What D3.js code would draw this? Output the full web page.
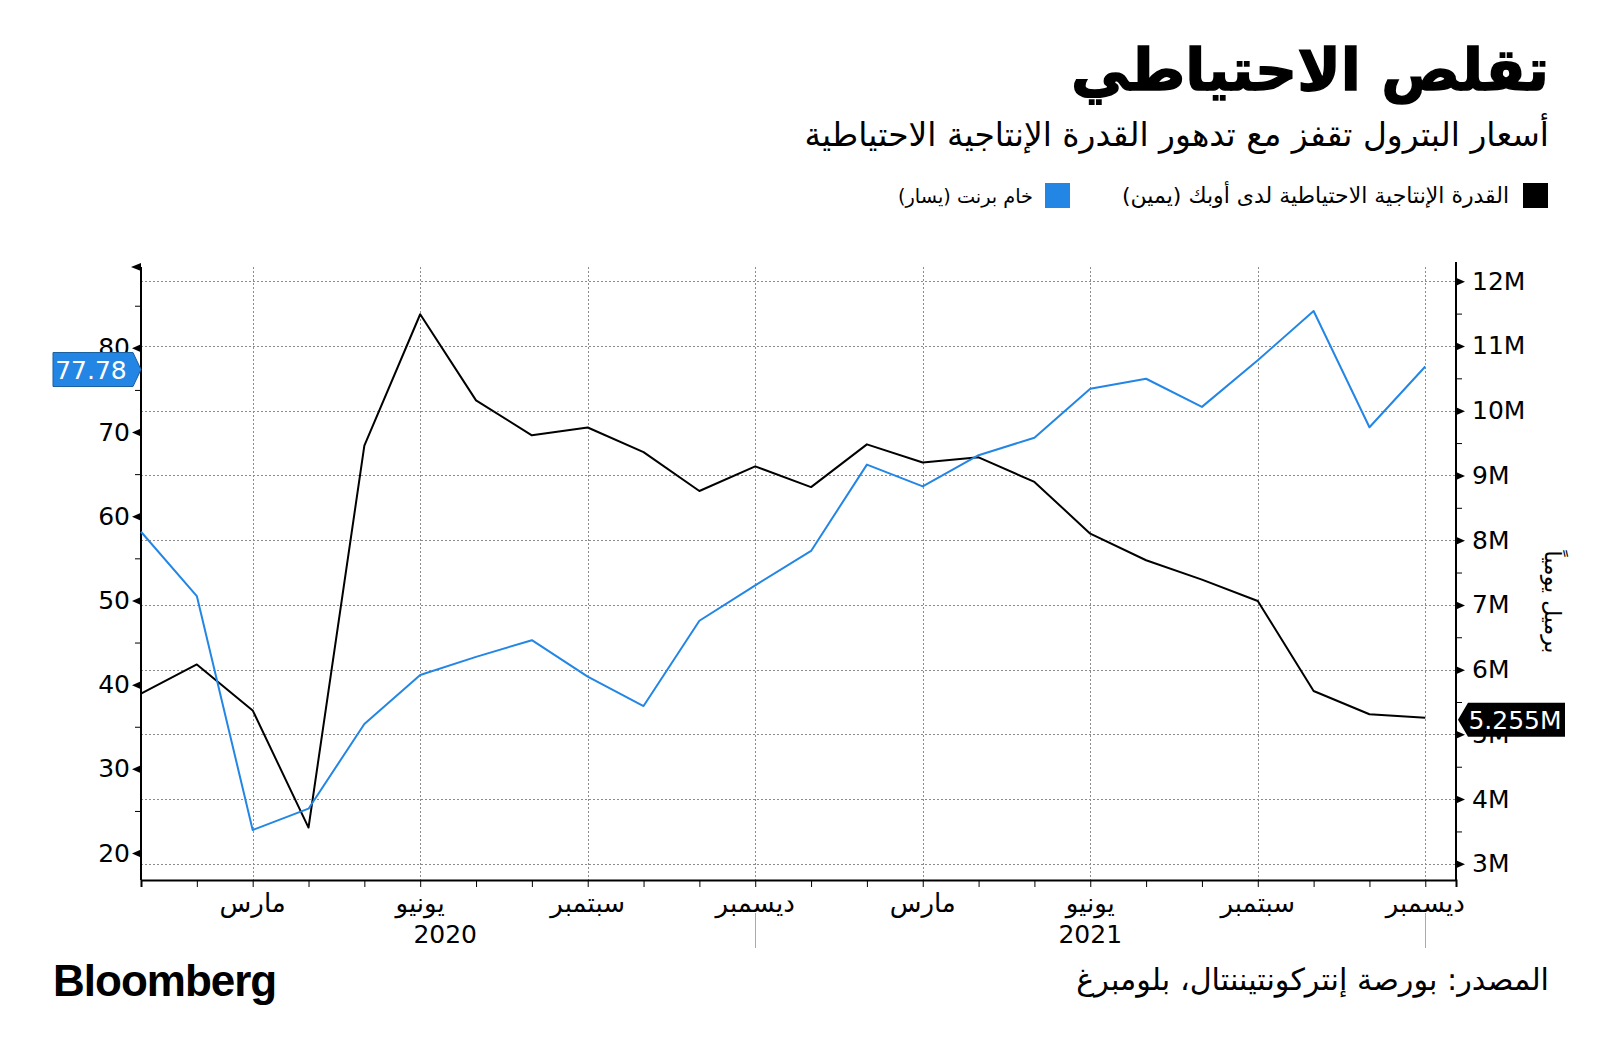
<!DOCTYPE html>
<html>
<head>
<meta charset="utf-8">
<script src="https://cdn.jsdelivr.net/npm/d3@7"></script>
<style>
  body { margin: 0; background: #fff; }
  svg { display: block; }
  text { font-family: "DejaVu Sans", sans-serif; }
</style>
</head>
<body>
<div class="chart"></div>
<script>
// monthly points, Jan 2020 .. Dec 2021
var monthIndex = d3.range(24);
// Brent crude, USD (left axis)
var brent = [58.16, 50.52, 22.74, 25.27, 35.33, 41.15, 43.30, 45.28, 40.95, 37.46, 47.59, 51.80,
             55.88, 66.13, 63.54, 67.25, 69.32, 75.13, 76.33, 72.99, 78.52, 84.38, 70.57, 77.78];
// OPEC spare capacity, million barrels/day (right axis)
var spare = [5.63, 6.08, 5.37, 3.56, 9.46, 11.49, 10.16, 9.62, 9.74, 9.36, 8.76, 9.14,
             8.82, 9.48, 9.20, 9.28, 8.90, 8.10, 7.69, 7.39, 7.06, 5.67, 5.31, 5.255];

var monthTicks = [2, 5, 8, 11, 14, 17, 20, 23];
var monthLabels = ["مارس", "يونيو", "سبتمبر", "ديسمبر", "مارس", "يونيو", "سبتمبر", "ديسمبر"];
var yearTicks = [5, 17];
var yearLabels = ["2020", "2021"];
var yearSeparators = [11, 23];

var leftTicks = [20, 30, 40, 50, 60, 70, 80];
var leftMinor = [25, 35, 45, 55, 65, 75, 85];
var rightTicks = [3, 4, 5, 6, 7, 8, 9, 10, 11, 12];
var rightMinor = [3.5, 4.5, 5.5, 6.5, 7.5, 8.5, 9.5, 10.5, 11.5];

var blue = "#2386e5";

var svgWidth = 1600, svgHeight = 1061;
var plot = { left: 141, right: 1456, top: 267, bottom: 880 };

var svg = d3.select(".chart").append("svg")
    .attr("width", svgWidth)
    .attr("height", svgHeight);

// scales
var x = d3.scaleLinear().domain([0, 23.55]).range([plot.left, plot.right]);
var yLeft = d3.scaleLinear().domain([16.8, 89.6]).range([plot.bottom, plot.top]);
var yRight = d3.scaleLinear().domain([2.75, 12.22]).range([plot.bottom, plot.top]);

// fit a text to a target width by changing its font size
function fitWidth(sel, width) {
    var fs = parseFloat(sel.attr("font-size"));
    var w = sel.node().getComputedTextLength();
    if (w > 0) sel.attr("font-size", (fs * width / w).toFixed(2));
}

// titles
var title = svg.append("text")
    .attr("x", 1549).attr("y", 90)
    .attr("direction", "rtl").attr("text-anchor", "start")
    .attr("font-size", 62).attr("font-weight", "bold")
    .attr("stroke", "#000").attr("stroke-width", 1.5)
    .text("تقلص الاحتياطي");
fitWidth(title, 478);

var subtitle = svg.append("text")
    .attr("x", 1549).attr("y", 146)
    .attr("direction", "rtl").attr("text-anchor", "start")
    .attr("font-size", 31)
    .text("أسعار البترول تقفز مع تدهور القدرة الإنتاجية الاحتياطية");
fitWidth(subtitle, 745);

// legend
svg.append("rect").attr("x", 1523).attr("y", 183).attr("width", 25).attr("height", 25).attr("fill", "#000");
var leg1 = svg.append("text")
    .attr("x", 1509).attr("y", 203)
    .attr("direction", "rtl").attr("text-anchor", "start")
    .attr("font-size", 21)
    .text("القدرة الإنتاجية الاحتياطية لدى أوبك (يمين)");
fitWidth(leg1, 387);
svg.append("rect").attr("x", 1045).attr("y", 183).attr("width", 25).attr("height", 25).attr("fill", blue);
var leg2 = svg.append("text")
    .attr("x", 1033).attr("y", 203)
    .attr("direction", "rtl").attr("text-anchor", "start")
    .attr("font-size", 21)
    .text("خام برنت (يسار)");
fitWidth(leg2, 135);

// gridlines
var grid = svg.append("g").attr("stroke", "#8c8c8c").attr("stroke-width", 1).attr("stroke-dasharray", "2,2");
grid.selectAll(".h").data(rightTicks).enter().append("line")
    .attr("x1", plot.left).attr("x2", plot.right)
    .attr("y1", d => Math.round(yRight(d)) + 0.5).attr("y2", d => Math.round(yRight(d)) + 0.5);
grid.selectAll(".v").data(monthTicks).enter().append("line")
    .attr("x1", d => Math.round(x(d)) + 0.5).attr("x2", d => Math.round(x(d)) + 0.5)
    .attr("y1", plot.top).attr("y2", plot.bottom);

// left axis
var leftAxis = svg.append("g").attr("transform", `translate(${plot.left},0)`)
    .call(d3.axisLeft(yLeft).tickValues(leftTicks).tickSize(0).tickPadding(11));
leftAxis.select(".domain").remove();
leftAxis.selectAll("text").attr("font-size", 25).attr("font-family", "DejaVu Sans").attr("fill", "#000");
leftAxis.selectAll(".tick").append("path").attr("d", "M0,-4L-9,0L0,4Z").attr("fill", "#000");
svg.append("g").attr("transform", `translate(${plot.left},0)`)
    .call(d3.axisLeft(yLeft).tickValues(leftMinor).tickSize(6).tickFormat(""))
    .select(".domain").remove();

// right axis
var rightAxis = svg.append("g").attr("transform", `translate(${plot.right},0)`)
    .call(d3.axisRight(yRight).tickValues(rightTicks).tickSize(0).tickPadding(16).tickFormat(d => d + "M"));
rightAxis.select(".domain").remove();
rightAxis.selectAll("text").attr("font-size", 25).attr("font-family", "DejaVu Sans").attr("fill", "#000");
rightAxis.selectAll(".tick").append("path").attr("d", "M0,-4L9,0L0,4Z").attr("fill", "#000");
svg.append("g").attr("transform", `translate(${plot.right},0)`)
    .call(d3.axisRight(yRight).tickValues(rightMinor).tickSize(6).tickFormat(""))
    .select(".domain").remove();

// axis lines
svg.append("line").attr("x1", plot.left).attr("x2", plot.left).attr("y1", plot.top).attr("y2", plot.bottom)
    .attr("stroke", "#000").attr("stroke-width", 2);
svg.append("path").attr("d", `M${plot.left},${plot.top - 4}L${plot.left - 10},${plot.top}L${plot.left},${plot.top + 4}Z`).attr("fill", "#000");
svg.append("line").attr("x1", plot.right).attr("x2", plot.right).attr("y1", plot.top - 5).attr("y2", plot.bottom)
    .attr("stroke", "#000").attr("stroke-width", 2);

// bottom axis
var bottomAxis = svg.append("g").attr("transform", `translate(0,${plot.bottom})`)
    .call(d3.axisBottom(x).tickValues(monthIndex).tickSize(7).tickFormat(""));
bottomAxis.select(".domain").attr("stroke-width", 2);
bottomAxis.selectAll(".tick line").attr("stroke", "#000");

svg.selectAll(".month").data(monthTicks).enter().append("text")
    .attr("x", (d) => x(d)).attr("y", 912)
    .attr("text-anchor", "middle").attr("font-size", 26)
    .text((d, i) => monthLabels[i]);
svg.selectAll(".year").data(yearTicks).enter().append("text")
    .attr("x", (d, i) => x(d) + (i === 0 ? 25 : 0)).attr("y", 943)
    .attr("text-anchor", "middle").attr("font-size", 25)
    .text((d, i) => yearLabels[i]);
svg.selectAll(".sep").data(yearSeparators).enter().append("line")
    .attr("x1", d => Math.round(x(d)) + 0.5).attr("x2", d => Math.round(x(d)) + 0.5)
    .attr("y1", 913).attr("y2", 948)
    .attr("stroke", "#aaa").attr("stroke-width", 1);

// right axis title
svg.append("text")
    .attr("transform", "translate(1545,602) rotate(90)")
    .attr("text-anchor", "middle").attr("font-size", 22)
    .text("برميل يومياً");

// lines
var lineLeft = d3.line().x((d, i) => x(i)).y(d => yLeft(d));
var lineRight = d3.line().x((d, i) => x(i)).y(d => yRight(d));

svg.append("path").datum(spare)
    .attr("d", lineRight).attr("fill", "none")
    .attr("stroke", "#000").attr("stroke-width", 2).attr("stroke-linejoin", "round");
svg.append("path").datum(brent)
    .attr("d", lineLeft).attr("fill", "none")
    .attr("stroke", blue).attr("stroke-width", 2).attr("stroke-linejoin", "round");

// last value flags
var lastBrent = brent[brent.length - 1];
var yb = yLeft(lastBrent) + 3;
svg.append("path")
    .attr("d", `M53,${yb - 17}L133,${yb - 17}L141,${yb}L133,${yb + 17}L53,${yb + 17}Z`)
    .attr("fill", blue).attr("stroke", "#1a5f9e").attr("stroke-width", 1);
svg.append("text").attr("x", 91).attr("y", yb + 9)
    .attr("text-anchor", "middle").attr("font-size", 25).attr("fill", "#fff")
    .text(lastBrent.toFixed(2));

var lastSpare = spare[spare.length - 1];
var ys = yRight(lastSpare) + 2;
svg.append("path")
    .attr("d", `M1458,${ys}L1468,${ys - 17}L1565,${ys - 17}L1565,${ys + 17}L1468,${ys + 17}Z`)
    .attr("fill", "#000");
svg.append("text").attr("x", 1515).attr("y", ys + 9)
    .attr("text-anchor", "middle").attr("font-size", 25).attr("fill", "#fff")
    .text(d3.format(".3f")(lastSpare) + "M");

// footer
svg.append("text")
    .attr("x", 53).attr("y", 996)
    .style("font-family", "'Liberation Sans', Arial, sans-serif")
    .attr("font-weight", "bold").attr("font-size", 44).attr("letter-spacing", -1)
    .text("Bloomberg");

var source = svg.append("text")
    .attr("x", 1549).attr("y", 990)
    .attr("direction", "rtl").attr("text-anchor", "start")
    .attr("font-size", 28)
    .text("المصدر: بورصة إنتركونتيننتال، بلومبرغ");
fitWidth(source, 473);
</script>
</body>
</html>
